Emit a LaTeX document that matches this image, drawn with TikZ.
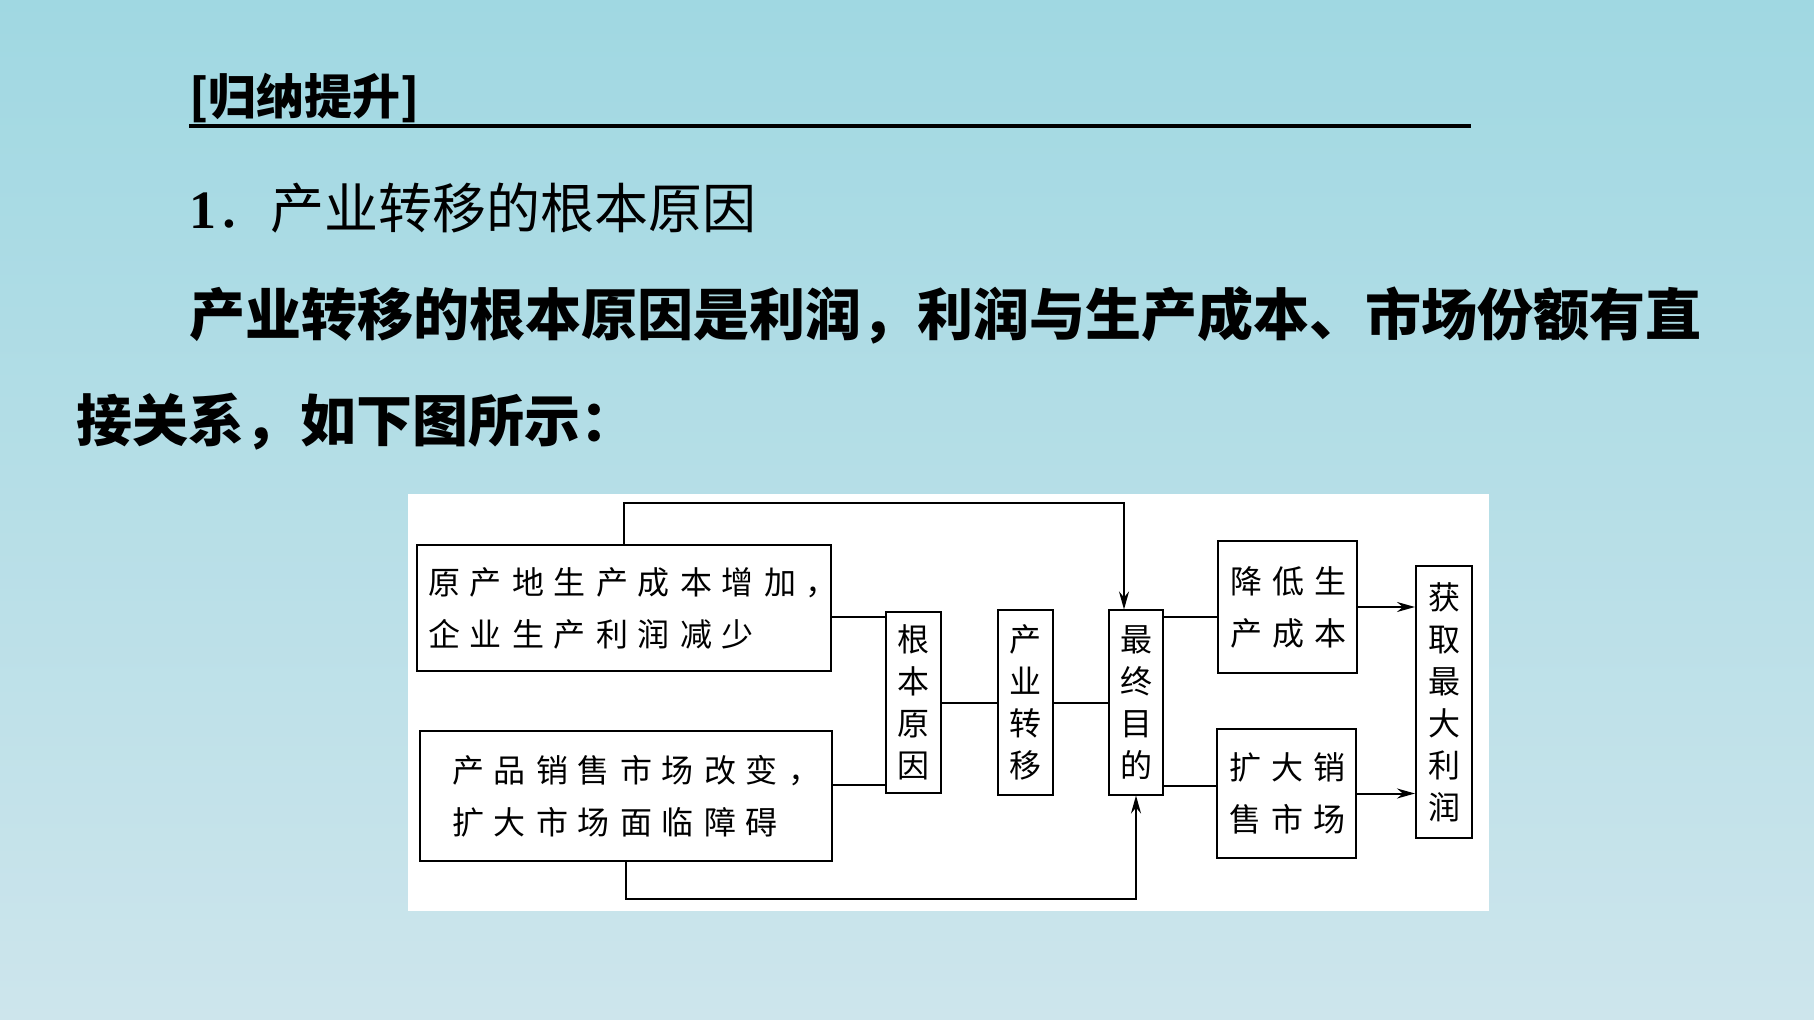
\documentclass[tikz,border=0pt]{standalone}
\usepackage{fontspec}
\usepackage{tikz}
\usetikzlibrary{arrows.meta,positioning}
\newfontfamily\cjk{Noto Sans CJK SC}
\newfontfamily\cjkwide{Noto Sans CJK SC}[LetterSpace=31.25]
\newfontfamily\numfont{Liberation Serif}
\definecolor{bgtop}{RGB}{160,216,226}
\definecolor{bgbot}{RGB}{205,229,236}

\begin{document}
\begin{tikzpicture}[x=0.5pt, y=-0.5pt,
  box/.style={draw=black, line width=1pt, fill=white, inner sep=0pt, align=left,
              font=\cjkwide\fontsize{16}{26}\selectfont},
  col/.style={draw=black, line width=1pt, fill=white, inner sep=0pt, align=center,
              minimum width=27.5pt, font=\cjk\fontsize{16}{21}\selectfont},
  txt/.style={anchor=west, inner sep=0pt},
  ln/.style={line width=1pt},
  ar/.style={-{Stealth[length=9pt,width=5pt]}, line width=1pt}]
\useasboundingbox (0,0) rectangle (1814,1020);
\shade[top color=bgtop, bottom color=bgbot] (0,0) rectangle (1814,1020);
\fill[white] (408,494) rectangle (1489,911);
% heading and text
\node[anchor=south west, inner sep=0pt, font=\cjk\bfseries\fontsize{24}{24}\selectfont] (title) at (189,123) {[归纳提升]};
\draw[line width=2pt] (title.south west) ++(0,3) -- ++(1282,0);
\node[txt, font=\cjk\fontsize{27}{27}\selectfont] (head) at (189,208) {{\numfont\bfseries 1}．产业转移的根本原因};
\node[txt, font=\cjk\bfseries\fontsize{28}{28}\selectfont] (line1) at (189,315) {产业转移的根本原因是利润，利润与生产成本、市场份额有直};
\node[txt, font=\cjk\bfseries\fontsize{28}{28}\selectfont] (line2) at (76,422) {接关系，如下图所示：};
% diagram
\node[box, text width=196pt, inner xsep=5.5pt, minimum height=63pt] (cause1) at (624,608) {原产地生产成本增加，\\企业生产利润减少};
\node[box, text width=174pt, inner xsep=16pt, minimum height=65pt] (cause2) at (626,796) {产品销售市场改变，\\扩大市场面临障碍};
\node[col, minimum height=90.5pt] (root) at (913.5,702.5) {根\\本\\原\\因};
\node[col, minimum height=92.5pt, right=27.5pt of root] (shift) {产\\业\\转\\移};
\node[col, minimum height=92pt, minimum width=27pt, right=27pt of shift] (goal) {最\\终\\目\\的};
\node[box, text width=57.5pt, inner xsep=6pt, minimum height=66pt] (cost) at (1287.5,607) {降低生\\产成本};
\node[box, text width=57.5pt, inner xsep=6pt, minimum height=64.5pt] (market) at (1286.5,793.5) {扩大销\\售市场};
\node[col, minimum width=28pt, minimum height=136pt] (profit) at (1444,702) {获\\取\\最\\大\\利\\润};
\coordinate (in1) at ([yshift=-4.5pt]cause1.east);
\coordinate (in2) at ([yshift=5.5pt]cause2.east);
\coordinate (up) at ([yshift=42.5pt]goal.east);
\coordinate (dn) at ([yshift=-41.5pt]goal.east);
\draw[ln] (in1) -- (in1 -| root.west);
\draw[ln] (in2) -- (in2 -| root.west);
\draw[ln] (root) -- (shift);
\draw[ln] (shift) -- (goal);
\draw[ln] (up) -- (up -| cost.west);
\draw[ln] (dn) -- (dn -| market.west);
\draw[ar] (cost.east) -- (cost.east -| profit.west);
\draw[ar] (market.east) -- (market.east -| profit.west);
\draw[ar] (cause1.north) -- ++(0,-41) -| ([xshift=-6pt]goal.north);
\draw[ar] (cause2.south) -- ++(0,37) -| (goal.south);
\end{tikzpicture}
\end{document}
